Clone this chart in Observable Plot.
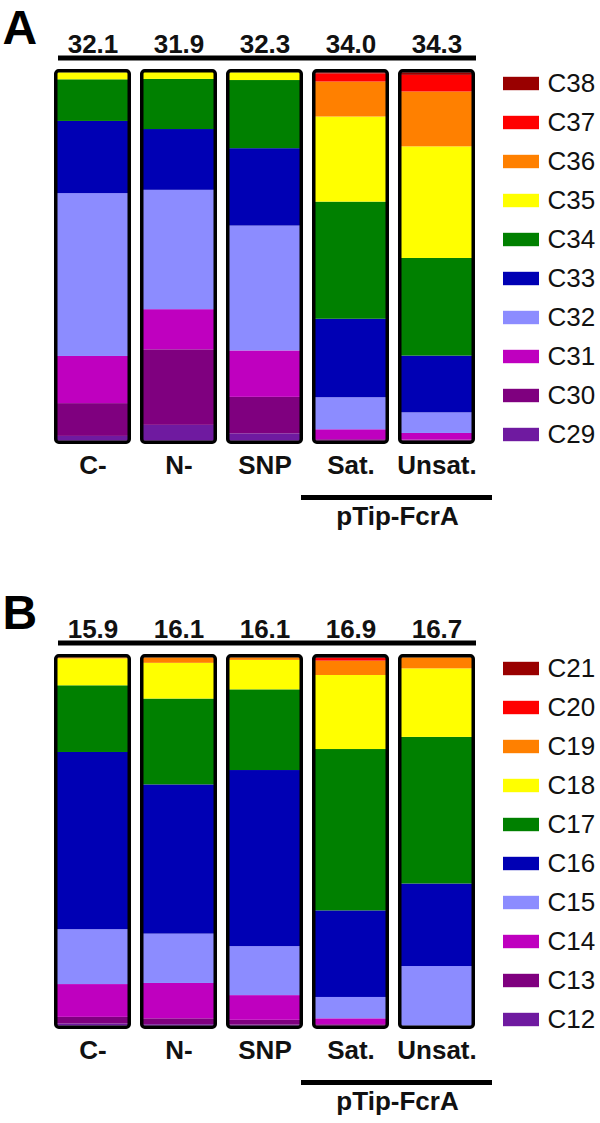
<!DOCTYPE html>
<html>
<head>
<meta charset="utf-8">
<script src="https://cdn.jsdelivr.net/npm/d3@7"></script>
<script src="https://cdn.jsdelivr.net/npm/@observablehq/plot@0.6"></script>
<style>
  html, body { margin: 0; padding: 0; background: #fff; }
  .panel { position: relative; width: 600px; }
  .panel svg { position: absolute; left: 0; top: 0; }
</style>
</head>
<body>
<div id="panelA" class="panel" style="height:585px"></div>
<div id="panelB" class="panel" style="height:538px"></div>
<script>
// ---------- data ----------
const samples = ["C-", "N-", "SNP", "Sat.", "Unsat."];
const groupLabel = "pTip-FcrA";
const groupSamples = ["Sat.", "Unsat."];

// Panel A: mean chain length and composition (%), chains listed top -> bottom
const totalsA = ["32.1", "31.9", "32.3", "34.0", "34.3"];
const chainsA = ["C38", "C37", "C36", "C35", "C34", "C33", "C32", "C31", "C30", "C29"];
const aCminus = [0, 0, 0, 1.9, 11.3, 19.6, 44.2, 12.8, 8.9, 1.3];
const aNminus = [0, 0, 0, 1.9, 13.6, 16.5, 32.4, 10.9, 20.5, 4.3];
const aSNP    = [0, 0, 0, 2.1, 18.5, 21.0, 33.9, 12.6, 9.9, 2.0];
const aSat    = [0.3, 2.2, 9.5, 23.1, 31.8, 21.3, 8.7, 2.7, 0.4, 0];
const aUnsat  = [0.7, 4.5, 14.9, 30.3, 26.5, 15.4, 5.6, 1.8, 0.3, 0];

// Panel B
const totalsB = ["15.9", "16.1", "16.1", "16.9", "16.7"];
const chainsB = ["C21", "C20", "C19", "C18", "C17", "C16", "C15", "C14", "C13", "C12"];
const bCminus = [0, 0, 0.3, 7.3, 18.1, 48.1, 14.9, 8.9, 1.8, 0.6];
const bNminus = [0, 0, 1.5, 9.7, 23.3, 40.5, 13.4, 9.6, 1.6, 0.4];
const bSNP    = [0, 0, 0.7, 8.0, 21.9, 47.8, 13.3, 6.7, 1.3, 0.3];
const bSat    = [0.2, 0.7, 3.9, 20.1, 43.8, 23.5, 5.8, 1.6, 0.4, 0];
const bUnsat  = [0, 0, 3.0, 18.6, 39.8, 22.4, 16.2, 0, 0, 0];

const chainColors = ["#990000", "#ff0000", "#ff8000", "#ffff00", "#008000",
                     "#0000b4", "#8c8cff", "#bf00bf", "#7f007f", "#6f1aa0"];

// ---------- drawing ----------
const FONT = "'Liberation Sans', Arial, Helvetica, sans-serif";

function buildRows(chains, series) {
  const rows = [];
  samples.forEach((s, si) => {
    // stack bottom -> top
    for (let k = chains.length - 1; k >= 0; k--) {
      const v = series[si][k];
      if (v > 0) rows.push({sample: s, chain: chains[k], value: v});
    }
  });
  return rows;
}

function drawPanel(el, letter, totals, chains, series, height) {
  const rows = buildRows(chains, series);
  const barBottomOuter = 443.3;
  const main = Plot.plot({
    width: 600,
    height,
    marginTop: 57.5,
    marginLeft: 58,
    marginRight: 124,
    marginBottom: height - barBottomOuter,
    style: {fontFamily: FONT, background: "transparent", color: "#000"},
    x: {type: "band", domain: samples, range: [52.7, 476], paddingInner: 0.104, paddingOuter: 0, axis: null},
    y: {domain: [0, 100], range: [440.7, 72.3], axis: null},
    color: {domain: chains, range: chainColors},
    marks: [
      Plot.barY(rows, {x: "sample", y: "value", fill: "chain", insetLeft: 3, insetRight: 3}),
      Plot.barY(samples, {x: d => d, y1: 0, y2: 100, fill: "none", stroke: "#000", strokeWidth: 3.5,
        insetLeft: 1.75, insetRight: 1.75, insetTop: -1.5, insetBottom: -1.5, rx: 3}),
      Plot.ruleY([100], {y: d => d, dy: -14.8, stroke: "#000", strokeWidth: 5}),
      Plot.text(samples, {x: d => d, text: (d, i) => totals[i], frameAnchor: "top", dy: -23.5,
        fontSize: 26, fontWeight: "bold", fill: "#111"}),
      Plot.text(samples, {x: d => d, text: d => d, frameAnchor: "bottom", dy: 29.7,
        fontSize: 26, fontWeight: "bold", fill: "#111"}),
      Plot.ruleY([0], {y: d => d, x1: () => groupSamples[0], x2: () => groupSamples[1], dy: 56.3,
        stroke: "#000", strokeWidth: 5, insetLeft: -11, insetRight: -17}),
      Plot.text([groupLabel], {x: () => groupSamples[0], text: d => d, frameAnchor: "bottom", dx: 46.5, dy: 81,
        fontSize: 26, fontWeight: "bold", fill: "#111"})
    ]
  });
  const legend = Plot.plot({
    width: 600,
    height,
    margin: 0,
    style: {fontFamily: FONT, background: "transparent", color: "#000"},
    x: {domain: [0, 1], range: [503, 539], axis: null},
    y: {type: "band", domain: chains, range: [59, 458], padding: 0, axis: null},
    color: {domain: chains, range: chainColors},
    marks: [
      Plot.barX(chains, {x1: 0, x2: 1, y: d => d, fill: d => d, insetTop: 12.8, insetBottom: 12.8}),
      Plot.text(chains, {x: 1, y: d => d, text: d => d, dx: 8, textAnchor: "start", fontSize: 26, fill: "#111"}),
      Plot.text([letter], {frameAnchor: "top-left", text: d => d, textAnchor: "start", lineAnchor: "top",
        dx: 2, dy: 9.5, fontSize: 48, fontWeight: "bold", fill: "#000"})
    ]
  });
  el.appendChild(main);
  el.appendChild(legend);
}

drawPanel(document.getElementById("panelA"), "A", totalsA, chainsA,
  [aCminus, aNminus, aSNP, aSat, aUnsat], 585);
drawPanel(document.getElementById("panelB"), "B", totalsB, chainsB,
  [bCminus, bNminus, bSNP, bSat, bUnsat], 538);
</script>
</body>
</html>
